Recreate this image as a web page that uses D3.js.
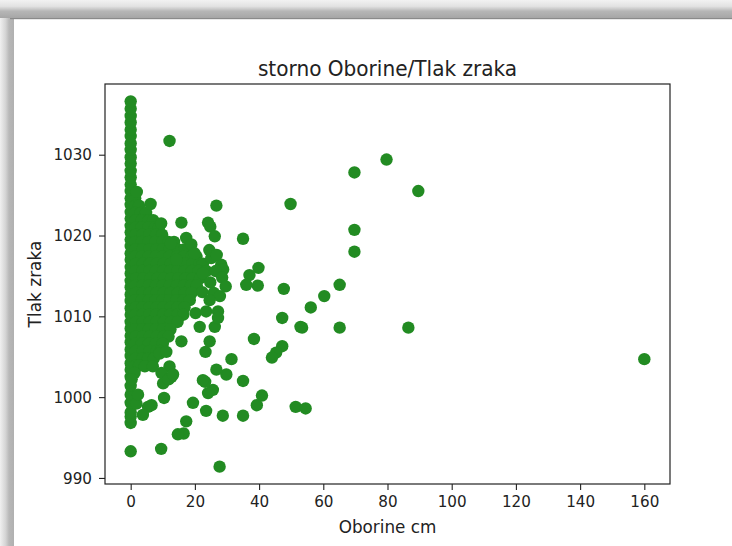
<!DOCTYPE html>
<html><head><meta charset="utf-8">
<script src="https://cdn.jsdelivr.net/npm/d3@7"></script>
<style>html,body{margin:0;padding:0;background:#fff;}svg{display:block;}</style>
</head><body>
<script>
const chartTitle = "storno Oborine/Tlak zraka";
const xLabel = "Oborine cm";
const yLabel = "Tlak zraka";
const xTicks = [0, 20, 40, 60, 80, 100, 120, 140, 160];
const yTicks = [990, 1000, 1010, 1020, 1030];

// pressure readings with zero precipitation
const tlakBezOborina = [993.3, 996.8, 997.6, 998.1, 999.3, 1000.3, 1001.4, 1002.5,
  1003.4, 1004.2, 1005.1, 1005.9, 1006.8, 1007.6, 1008.5, 1009.3, 1010.2, 1011.0,
  1011.9, 1012.7, 1013.6, 1014.4, 1015.3, 1016.1, 1017.0, 1017.8, 1018.7, 1019.5,
  1020.4, 1021.2, 1022.1, 1022.9, 1023.8, 1024.6, 1025.5, 1026.3, 1027.2, 1028.0,
  1028.9, 1029.7, 1030.6, 1031.4, 1032.3, 1033.1, 1034.0, 1034.8, 1035.7, 1036.6];

// [oborine, tlak] pairs, light/moderate precipitation
const mjerenjaGusta = [
  [1.4,1024.6],[1.9,1025.4],
  [1.5,1023.7],[2.6,1023.7],
  [1.4,1022.8],[3.2,1022.8],[4.8,1022.8],
  [1.6,1021.9],[3.5,1021.9],[5.6,1021.9],[7.0,1021.9],
  [1.5,1021.0],[3.4,1021.0],[5.5,1021.0],[7.6,1021.0],[8.8,1021.0],
  [1.6,1020.1],[3.6,1020.1],[5.8,1020.1],[7.9,1020.1],[9.8,1020.1],
  [1.5,1019.2],[3.4,1019.2],[5.6,1019.2],[7.7,1019.2],[9.9,1019.2],[11.8,1019.2],[13.5,1019.2],
  [1.6,1018.3],[3.7,1018.3],[5.8,1018.3],[8.0,1018.3],[10.1,1018.3],[12.2,1018.3],[14.6,1018.3],[16.8,1018.3],[18.0,1018.3],
  [1.4,1017.4],[3.5,1017.4],[5.6,1017.4],[7.8,1017.4],[10.0,1017.4],[12.1,1017.4],[14.4,1017.4],[16.6,1017.4],[18.9,1017.4],[20.5,1017.4],
  [1.6,1016.5],[3.8,1016.5],[6.0,1016.5],[8.1,1016.5],[10.3,1016.5],[12.5,1016.5],[14.7,1016.5],[16.9,1016.5],[19.2,1016.5],[21.4,1016.5],[22.5,1016.5],
  [1.5,1015.6],[3.6,1015.6],[5.8,1015.6],[7.9,1015.6],[10.1,1015.6],[12.3,1015.6],[14.5,1015.6],[16.8,1015.6],[19.0,1015.6],[21.2,1015.6],[23.6,1015.6],
  [1.7,1014.7],[3.9,1014.7],[6.1,1014.7],[8.3,1014.7],[10.4,1014.7],[12.6,1014.7],[14.8,1014.7],[17.1,1014.7],[19.3,1014.7],[21.6,1014.7],
  [1.5,1013.8],[3.6,1013.8],[5.7,1013.8],[7.9,1013.8],[10.0,1013.8],[12.2,1013.8],[14.4,1013.8],[16.6,1013.8],[18.8,1013.8],[20.6,1013.8],
  [1.6,1012.9],[3.8,1012.9],[6.0,1012.9],[8.2,1012.9],[10.3,1012.9],[12.5,1012.9],[14.7,1012.9],[16.9,1012.9],[19.0,1012.9],
  [1.4,1012.0],[3.5,1012.0],[5.7,1012.0],[7.8,1012.0],[10.0,1012.0],[12.1,1012.0],[14.3,1012.0],[16.5,1012.0],[18.4,1012.0],
  [1.6,1011.1],[3.7,1011.1],[5.9,1011.1],[8.1,1011.1],[10.2,1011.1],[12.4,1011.1],[14.6,1011.1],[16.8,1011.1],
  [1.5,1010.2],[3.6,1010.2],[5.8,1010.2],[7.9,1010.2],[10.1,1010.2],[12.3,1010.2],[14.5,1010.2],[16.4,1010.2],
  [1.7,1009.3],[3.8,1009.3],[6.0,1009.3],[8.2,1009.3],[10.4,1009.3],[12.6,1009.3],[14.6,1009.3],
  [1.5,1008.4],[3.6,1008.4],[5.7,1008.4],[7.9,1008.4],[10.1,1008.4],[12.4,1008.4],
  [1.6,1007.5],[3.8,1007.5],[5.9,1007.5],[8.1,1007.5],[10.3,1007.5],[11.8,1007.5],
  [1.4,1006.6],[3.5,1006.6],[5.7,1006.6],[7.8,1006.6],[10.0,1006.6],
  [1.6,1005.7],[3.7,1005.7],[5.9,1005.7],[8.0,1005.7],[9.2,1005.7],
  [1.5,1004.8],[3.6,1004.8],[5.4,1004.8],[7.2,1004.8],
  [1.4,1003.9],[2.6,1003.9],[1.2,1003.0],[0.3,1002.2]
];

// [oborine, tlak] pairs, scattered readings
const mjerenjaRaspršena = [
  [12.1,1031.7],[79.7,1029.4],[69.7,1027.8],[89.6,1025.5],[49.8,1023.9],
  [69.7,1020.7],[69.7,1018.0],[65.1,1013.9],[60.3,1012.5],[56.1,1011.1],
  [53.4,1008.6],[65.1,1008.6],[86.5,1008.6],[160.0,1004.7],
  [6.2,1023.9],[26.7,1023.7],[9.5,1021.5],[15.8,1021.6],[24.1,1021.6],[24.8,1021.1],
  [26.2,1019.9],[35.0,1019.6],[12.5,1019.0],[17.3,1019.7],[18.9,1018.9],
  [25.1,1017.2],[28.2,1016.4],[39.8,1016.0],[37.0,1015.1],[14.2,1017.0],[19.9,1017.8],
  [24.5,1018.2],[26.8,1017.6],[28.8,1015.8],[22.5,1015.3],[24.8,1014.2],[26.5,1015.6],
  [28.5,1014.8],[25.9,1012.9],[22.3,1013.0],[27.8,1012.5],
  [47.7,1013.4],[47.2,1009.8],[52.9,1008.7],[47.2,1006.3],[45.3,1005.5],[44.0,1004.9],
  [38.4,1007.2],[31.4,1004.7],[35.0,1002.0],[40.9,1000.2],[39.3,999.0],[51.4,998.8],
  [54.5,998.6],[35.0,997.7],[28.7,997.7],[23.5,998.3],[19.4,999.3],[27.7,991.4],
  [9.5,993.6],[17.3,997.0],[16.5,995.5],[14.7,995.4],[10.4,999.9],[29.8,1002.8],
  [26.7,1003.4],[25.6,1000.9],[24.1,1000.5],[23.2,1001.9],[22.5,1002.1],
  [39.6,1013.8],[36.0,1013.9],[29.6,1013.7],[24.6,1012.0],[15.8,1006.9],[23.3,1005.6],
  [24.6,1006.9],[26.2,1008.7],[21.5,1008.7],[20.2,1010.4],[23.5,1010.6],[27.2,1010.6],
  [27.2,1009.8],[12.7,1002.5],[12.1,1003.8],[10.1,1001.7],[9.6,1003.0],[11.8,1002.2],
  [13.2,1002.8],[5.4,998.8],[3.8,997.8],[6.5,999.0],[1.8,999.2],[2.3,1000.3],
  [4.4,1003.8],[6.9,1003.8],[9.0,1005.4],[11.1,1005.6]
];

const W = 732, H = 546;
const svg = d3.select("body").append("svg").attr("width", W).attr("height", H);

// window shadow frame
const defs = svg.append("defs");
const gTop = defs.append("linearGradient").attr("id","gTop").attr("x1",0).attr("y1",0).attr("x2",0).attr("y2",1);
gTop.append("stop").attr("offset","0%").attr("stop-color","#f2f2f2");
gTop.append("stop").attr("offset","35%").attr("stop-color","#e2e2e2");
gTop.append("stop").attr("offset","62%").attr("stop-color","#b6b6b6");
gTop.append("stop").attr("offset","100%").attr("stop-color","#a6a6a6");
const gLeft = defs.append("linearGradient").attr("id","gLeft").attr("x1",0).attr("y1",0).attr("x2",1).attr("y2",0);
gLeft.append("stop").attr("offset","0%").attr("stop-color","#f0f0f0");
gLeft.append("stop").attr("offset","40%").attr("stop-color","#d4d4d4");
gLeft.append("stop").attr("offset","65%").attr("stop-color","#b8b8b8");
gLeft.append("stop").attr("offset","100%").attr("stop-color","#b0b0b0");
svg.append("rect").attr("x",0).attr("y",0).attr("width",W).attr("height",H).attr("fill","#fff");
svg.append("rect").attr("x",0).attr("y",0).attr("width",14).attr("height",H).attr("fill","url(#gLeft)");
svg.append("rect").attr("x",0).attr("y",0).attr("width",W).attr("height",18).attr("fill","url(#gTop)");
svg.append("rect").attr("x",10).attr("y",18).attr("width",W-10).attr("height",1.2).attr("fill","#8a8a8a");

const m = {left:105, right:670, top:84, bottom:484};
const x = d3.scaleLinear().domain([-8, 168]).range([m.left, m.right]);
const y = d3.scaleLinear().domain([989.25, 1038.75]).range([m.bottom, m.top]);

const font = "DejaVu Sans, sans-serif";
const pts = tlakBezOborina.map(v => [0, v]).concat(mjerenjaGusta, mjerenjaRaspršena);

svg.append("g").selectAll("circle").data(pts).join("circle")
  .attr("cx", d => x(d[0])).attr("cy", d => y(d[1])).attr("r", 6.2)
  .attr("fill", "#228b22");

const tickSx = 0.92;
const xAxis = svg.append("g").attr("transform", `translate(0,${m.bottom})`)
  .call(d3.axisBottom(x).tickValues(xTicks).tickSize(6).tickPadding(5));
const yAxis = svg.append("g").attr("transform", `translate(${m.left},0)`)
  .call(d3.axisLeft(y).tickValues(yTicks).tickSize(6).tickPadding(7).tickFormat(d3.format("d")));
[xAxis, yAxis].forEach(a => {
  a.select(".domain").remove();
  a.selectAll("line").attr("stroke", "#222").attr("stroke-width", 1.1);
  a.selectAll("text").attr("font-family", font).attr("font-size", 16.5).attr("fill", "#222")
    .attr("transform", `scale(${tickSx},1)`);
});
yAxis.selectAll("text").attr("x", -13 / tickSx);
svg.append("rect").attr("x", m.left).attr("y", m.top).attr("width", m.right - m.left)
  .attr("height", m.bottom - m.top).attr("fill", "none").attr("stroke", "#222").attr("stroke-width", 1.2);

svg.append("text").attr("transform", `translate(${(m.left + m.right) / 2},76) scale(0.98,1)`)
  .attr("text-anchor", "middle")
  .attr("font-family", font).attr("font-size", 20.5).attr("fill", "#222").text(chartTitle);
svg.append("text").attr("transform", `translate(${(m.left + m.right) / 2},533) scale(0.96,1)`)
  .attr("text-anchor", "middle")
  .attr("font-family", font).attr("font-size", 17.5).attr("fill", "#222").text(xLabel);
svg.append("text").attr("transform", `translate(41,${(m.top + m.bottom) / 2}) rotate(-90) scale(0.97,1)`)
  .attr("text-anchor", "middle").attr("font-family", font).attr("font-size", 17.5).attr("fill", "#222").text(yLabel);
</script>
</body></html>
